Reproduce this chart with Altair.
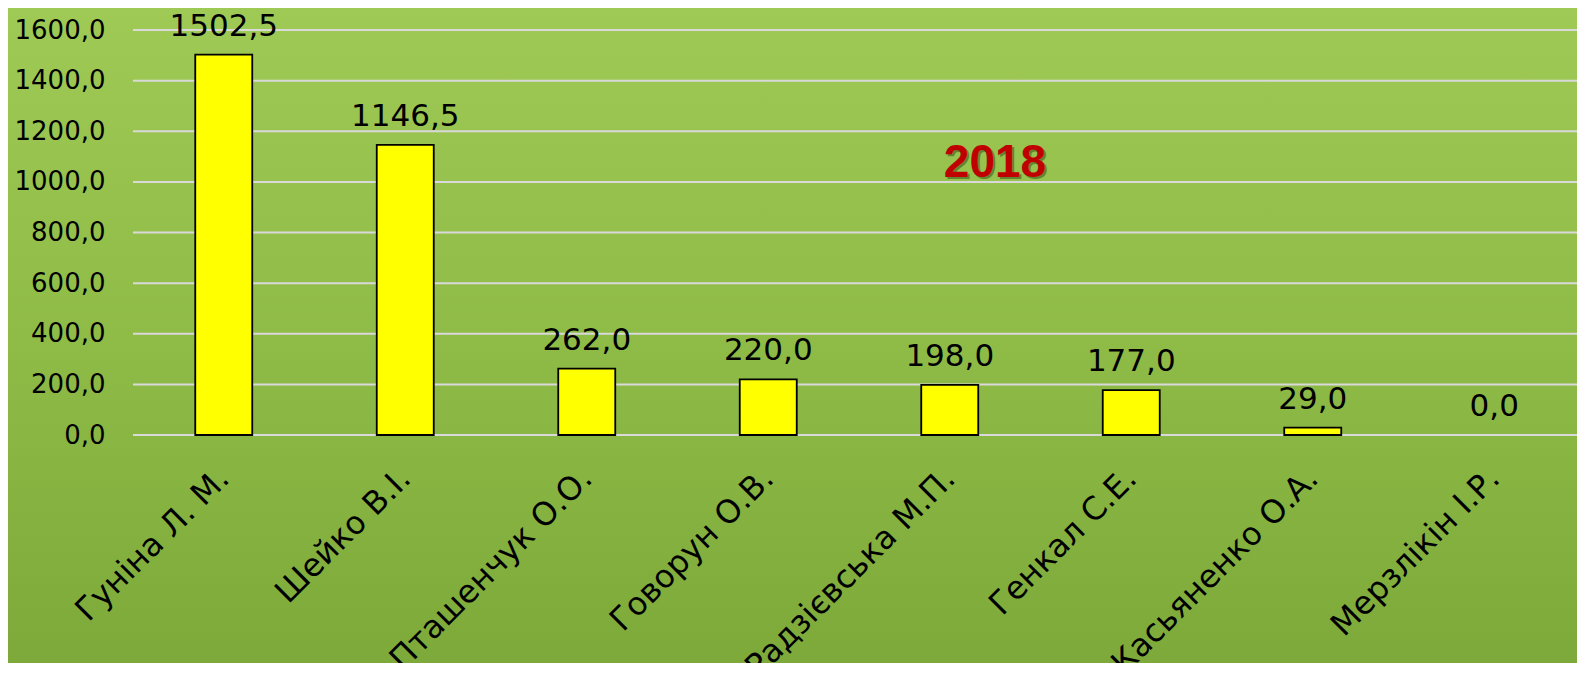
import altair as alt
import pandas as pd

names = ["Гуніна Л. М.", "Шейко В.І.", "Пташенчук О.О.", "Говорун О.В.",
         "Радзієвська М.П.", "Генкал С.Е.", "Касьяненко О.А.", "Мерзлікін І.Р."]
values = [1502.5, 1146.5, 262.0, 220.0, 198.0, 177.0, 29.0, 0.0]
y_ticks = [0, 200, 400, 600, 800, 1000, 1200, 1400, 1600]
year_label = "2018"

df = pd.DataFrame({"name": names, "value": values})
gdf = pd.DataFrame({"value": y_ticks})

W, H = 1444, 405
PL, PT, PB = 125, 22, 228

xscale = alt.Scale(domain=names, range=[0, 1452], paddingInner=0.686, paddingOuter=0.343)
yscale = alt.Scale(domain=[0, 1600], nice=False)

yaxis = alt.Axis(title=None, values=y_ticks, grid=False,
                 domain=False, ticks=False, labelPadding=28, zindex=1,
                 labelFont="DejaVu Sans", labelFontSize=26, labelColor="black",
                 labelExpr="replace(format(datum.value, '.1f'), '.', ',')")
xaxis = alt.Axis(title=None, labelAngle=-45, labelFont="DejaVu Sans",
                 labelFontSize=32, labelColor="black", labelPadding=38, labelLimit=600,
                 ticks=False, domain=False, grid=False, zindex=1,
                 labelAlign="right", labelBaseline="middle")

bg = alt.Chart(pd.DataFrame({"a": [0]})).mark_rect(
    color=alt.Gradient(
        gradient="linear", x1=0, y1=0, x2=0, y2=1,
        stops=[alt.GradientStop(offset=0, color="#a0ca56"),
               alt.GradientStop(offset=0.5, color="#8fbb47"),
               alt.GradientStop(offset=1, color="#7da93a")]
    )
).encode(
    x=alt.value(-PL - 10), x2=alt.value(W + 20),
    y=alt.value(-PT - 10), y2=alt.value(H + PB + 10)
)

grid = alt.Chart(gdf).mark_rule(color="#d9d9d9", strokeWidth=2).encode(
    y=alt.Y("value:Q", scale=yscale, axis=yaxis),
    x=alt.value(0), x2=alt.value(W + 20)
)

base = alt.Chart(df)

bars = base.mark_bar(color="#ffff00", stroke="black").encode(
    x=alt.X("name:N", scale=xscale, sort=names, axis=xaxis),
    y=alt.Y("value:Q", scale=yscale, axis=yaxis),
    strokeWidth=alt.condition("datum.value > 0", alt.value(1.8), alt.value(0))
)

labels = base.transform_calculate(
    lab="replace(format(datum.value, '.1f'), '.', ',')"
).mark_text(font="DejaVu Sans", fontSize=31, color="black", baseline="alphabetic",
            align="center", dy=-19).encode(
    x=alt.X("name:N", scale=xscale, sort=names, axis=xaxis),
    y=alt.Y("value:Q", scale=yscale, axis=yaxis),
    text="lab:N"
)

ydf = pd.DataFrame({"t": [year_label], "value": [1019]})
shadow = alt.Chart(ydf).mark_text(font="Liberation Sans", fontWeight="bold", fontSize=46,
                                  color="#3f5a1b", opacity=0.6, baseline="alphabetic",
                                  align="center", dx=2, dy=2).encode(
    x=alt.value(862), y=alt.Y("value:Q", scale=yscale, axis=yaxis), text="t:N")
year = alt.Chart(ydf).mark_text(font="Liberation Sans", fontWeight="bold", fontSize=46,
                                color="#c00000", baseline="alphabetic", align="center").encode(
    x=alt.value(862), y=alt.Y("value:Q", scale=yscale, axis=yaxis), text="t:N")

chart = alt.layer(bg, grid, bars, labels, shadow, year).properties(
    width=W, height=H,
    autosize=alt.AutoSizeParams(type="none"),
    padding={"left": PL, "top": PT, "right": 0, "bottom": PB},
    background="#8fbb47"
).configure_view(stroke=None)

chart.save("out.html", embed_options={"renderer": "svg", "actions": False})
